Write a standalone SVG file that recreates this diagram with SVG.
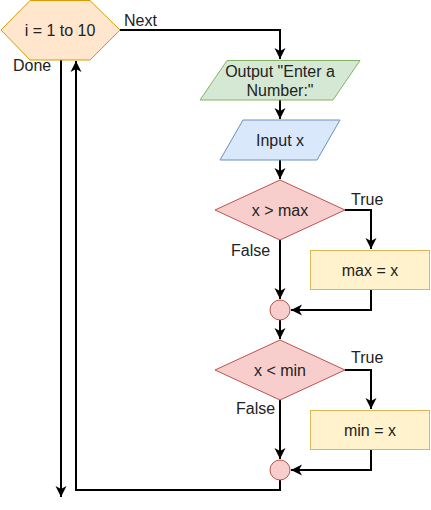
<svg xmlns="http://www.w3.org/2000/svg" width="431" height="510" viewBox="0 0 431 510">
<style>
text{font-family:"Liberation Sans",Arial,sans-serif;font-size:16px;fill:#222}
.c{text-anchor:middle}
.e{fill:none;stroke:#000;stroke-width:2}
</style>
<defs>
<marker id="a" markerUnits="userSpaceOnUse" markerWidth="14" markerHeight="14" viewBox="-12 -7 14 14" refX="0" refY="0" orient="auto">
<path d="M-11,-5.5 L0,0 L-11,5.5 L-8,0 Z" fill="#000"/>
</marker>
</defs>
<rect width="431" height="510" fill="#fff"/>
<g id="connectors">
<path class="e" d="M120,30 H280 V59" marker-end="url(#a)"/>
<path class="e" d="M280,100 V119" marker-end="url(#a)"/>
<path class="e" d="M280,160 V179" marker-end="url(#a)"/>
<path class="e" d="M345,210 H371 V249" marker-end="url(#a)"/>
<path class="e" d="M280,240 V299" marker-end="url(#a)"/>
<path class="e" d="M371,290 V310 H291" marker-end="url(#a)"/>
<path class="e" d="M280,320 V339" marker-end="url(#a)"/>
<path class="e" d="M345,370 H371 V409" marker-end="url(#a)"/>
<path class="e" d="M280,400 V459" marker-end="url(#a)"/>
<path class="e" d="M371,450 V470 H291" marker-end="url(#a)"/>
<path class="e" d="M280,480 V490 H76 V61" marker-end="url(#a)"/>
<path class="e" d="M61,60 V497" marker-end="url(#a)"/>
<text x="124" y="26">Next</text>
<text x="13" y="71">Done</text>
<text x="351" y="205">True</text>
<text x="231" y="256">False</text>
<text x="351" y="363">True</text>
<text x="236" y="414">False</text>
</g>
<g id="loop">
<polygon points="1,30 30,0.5 90,0.5 120,30 90,60 30,60" fill="#ffe6cc" stroke="#d79b00"/>
<text class="c" x="60" y="36">i = 1 to 10</text>
</g>
<g id="output">
<polygon points="227,60.5 360,60.5 333,100 200,100" fill="#d5e8d4" stroke="#82b366"/>
<text class="c" x="280" y="77">Output "Enter a</text>
<text class="c" x="280" y="96">Number:"</text>
</g>
<g id="input">
<polygon points="243,120 340,120 317,160 220,160" fill="#dae8fc" stroke="#6c8ebf"/>
<text class="c" x="280" y="146">Input x</text>
</g>
<g id="cond1">
<polygon points="280,180 345,210 280,240 215,210" fill="#f8cecc" stroke="#b85450"/>
<text class="c" x="280" y="216">x &gt; max</text>
</g>
<g id="setmax">
<rect x="310.5" y="250.5" width="119" height="39" fill="#fff2cc" stroke="#d6b656"/>
<text class="c" x="370" y="276">max = x</text>
</g>
<g id="merge1">
<circle cx="280" cy="310" r="10" fill="#f8cecc" stroke="#b85450"/>
</g>
<g id="cond2">
<polygon points="280,340 345,370 280,400 215,370" fill="#f8cecc" stroke="#b85450"/>
<text class="c" x="280" y="376">x &lt; min</text>
</g>
<g id="setmin">
<rect x="310.5" y="410.5" width="119" height="39" fill="#fff2cc" stroke="#d6b656"/>
<text class="c" x="370" y="436">min = x</text>
</g>
<g id="merge2">
<circle cx="280" cy="470" r="10" fill="#f8cecc" stroke="#b85450"/>
</g>
</svg>
